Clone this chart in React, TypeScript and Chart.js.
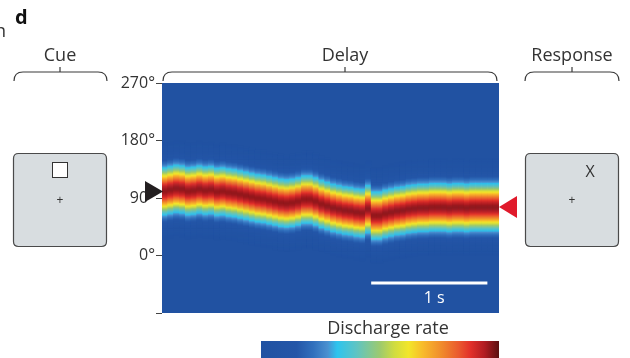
import React, { useEffect, useRef } from 'react';
import { Chart, registerables } from 'chart.js';

Chart.register(...registerables);

// ---- data ----
const delayTimes = [
  0, 0.05, 0.1, 0.15, 0.2, 0.25, 0.3, 0.35, 0.4, 0.45,
  0.5, 0.55, 0.6, 0.65, 0.7, 0.75, 0.8, 0.85, 0.9, 0.95,
  1.0, 1.05, 1.1, 1.15, 1.2, 1.25, 1.3, 1.35, 1.4, 1.45,
  1.5, 1.55, 1.6, 1.65, 1.7, 1.75, 1.8, 1.85, 1.9, 1.95,
  2.0, 2.05, 2.1, 2.15, 2.2, 2.25, 2.3, 2.35, 2.4, 2.45,
  2.5, 2.55, 2.6, 2.65, 2.7, 2.75, 2.8, 2.85,
];
const binWidth = 0.05;
// preferred direction (deg) of the activity bump centre in each time bin
const bumpCentre = [
  101, 103, 105, 104, 101, 102, 104, 102, 103, 100,
  101, 99, 98, 96, 94, 92, 90, 89, 87, 85,
  83, 82, 83, 85, 88, 88, 85, 81, 78, 75,
  73, 71, 70, 68, 67, 73, 63, 63, 66, 68,
  70, 71, 73, 74, 75, 75, 76, 76, 76, 75,
  76, 76, 75, 76, 76, 76, 76, 76,
];
const bumpWidthDeg = 25; // tuning width (sd, deg)
const bumpPeak = 0.96;
const angleStep = 1.5;
const yTickValues = [-90, 0, 90, 180, 270];
const yTickLabels = ['', '0°', '90°', '180°', '270°'];
const cueAngle = 100;
const responseAngle = 76;
const scaleBarStart = 1.8;
const scaleBarEnd = 2.8;
const phaseLabels = ['Cue', 'Delay', 'Response'];
const colorbarTitle = 'Discharge rate';

// ---- colour map (jet-like, as in the colour bar) ----
const cmapStops: [number, string][] = [
  [0, '#2152a2'],
  [0.15, '#2456a8'],
  [0.22, '#3170bd'],
  [0.28, '#4a90d0'],
  [0.32, '#2dc4ee'],
  [0.4, '#5ec4c4'],
  [0.5, '#9dca6e'],
  [0.56, '#d0dc40'],
  [0.62, '#f2e62a'],
  [0.68, '#f8bb2a'],
  [0.76, '#f08a2c'],
  [0.83, '#ea5a2e'],
  [0.88, '#e2302a'],
  [0.94, '#b01c22'],
  [1, '#5a1010'],
];
const hex = (h: string) => [1, 3, 5].map((i) => parseInt(h.slice(i, i + 2), 16));
const cmapRGB = cmapStops.map(([p, c]) => [p, hex(c)] as [number, number[]]);
function cmap(v: number): string {
  const t = Math.max(0, Math.min(1, v));
  for (let i = 1; i < cmapRGB.length; i++) {
    const [p1, c1] = cmapRGB[i];
    const [p0, c0] = cmapRGB[i - 1];
    if (t <= p1) {
      const f = (t - p0) / (p1 - p0 || 1);
      const c = c0.map((a, k) => Math.round(a + (c1[k] - a) * f));
      return `rgb(${c[0]},${c[1]},${c[2]})`;
    }
  }
  return cmapStops[cmapStops.length - 1][1];
}

const FONT = '"Open Sans", "Noto Sans", sans-serif';
const TEXT = '#333333';

const heatPlugin = {
  id: 'heat',
  beforeDatasetsDraw(chart: any) {
    const { ctx, chartArea: a, scales } = chart;
    const xs = scales.x;
    const ys = scales.y;
    ctx.save();
    ctx.beginPath();
    ctx.rect(a.left, a.top, a.right - a.left, a.bottom - a.top);
    ctx.clip();
    ctx.fillStyle = cmap(0);
    ctx.fillRect(a.left, a.top, a.right - a.left, a.bottom - a.top);
    const pts = chart.data.datasets[0].data as { x: number; y: number }[];
    pts.forEach((p) => {
      const x0 = xs.getPixelForValue(p.x);
      const x1 = xs.getPixelForValue(p.x + binWidth);
      for (let ang = -90; ang < 270; ang += angleStep) {
        const mid = ang + angleStep / 2;
        const d = mid - p.y;
        const v = bumpPeak * Math.exp(-(d * d) / (2 * bumpWidthDeg * bumpWidthDeg));
        if (v < 0.01) continue;
        const yTop = ys.getPixelForValue(ang + angleStep);
        const yBot = ys.getPixelForValue(ang);
        ctx.fillStyle = cmap(v);
        ctx.fillRect(x0 - 0.3, yTop - 0.3, x1 - x0 + 0.6, yBot - yTop + 0.6);
      }
    });
    ctx.restore();
  },
};

function brace(ctx: CanvasRenderingContext2D, x1: number, x2: number, y: number, cx: number) {
  ctx.beginPath();
  ctx.moveTo(x1, y + 9);
  ctx.quadraticCurveTo(x1, y, x1 + 9, y);
  ctx.lineTo(x2 - 9, y);
  ctx.quadraticCurveTo(x2, y, x2, y + 9);
  ctx.moveTo(cx, y);
  ctx.lineTo(cx, y - 5);
  ctx.stroke();
}

function roundRect(ctx: CanvasRenderingContext2D, x: number, y: number, w: number, h: number, r: number) {
  ctx.beginPath();
  ctx.moveTo(x + r, y);
  ctx.lineTo(x + w - r, y);
  ctx.quadraticCurveTo(x + w, y, x + w, y + r);
  ctx.lineTo(x + w, y + h - r);
  ctx.quadraticCurveTo(x + w, y + h, x + w - r, y + h);
  ctx.lineTo(x + r, y + h);
  ctx.quadraticCurveTo(x, y + h, x, y + h - r);
  ctx.lineTo(x, y + r);
  ctx.quadraticCurveTo(x, y, x + r, y);
  ctx.closePath();
}

const decorPlugin = {
  id: 'decor',
  afterDraw(chart: any) {
    const { ctx, chartArea: a, scales } = chart;
    const xs = scales.x;
    const ys = scales.y;
    ctx.save();

    // scale bar
    const sbY = a.bottom - 30;
    ctx.strokeStyle = '#ffffff';
    ctx.lineWidth = 3;
    ctx.beginPath();
    ctx.moveTo(xs.getPixelForValue(scaleBarStart), sbY);
    ctx.lineTo(xs.getPixelForValue(scaleBarEnd), sbY);
    ctx.stroke();
    ctx.fillStyle = '#ffffff';
    ctx.font = `16px ${FONT}`;
    ctx.textAlign = 'center';
    ctx.textBaseline = 'middle';
    ctx.fillText('1 s', (xs.getPixelForValue(scaleBarStart) + xs.getPixelForValue(scaleBarEnd)) / 2 + 5, sbY + 15);

    // cue arrow (black, pointing right)
    const yc = ys.getPixelForValue(cueAngle);
    ctx.fillStyle = '#231f20';
    ctx.beginPath();
    ctx.moveTo(a.left + 1, yc);
    ctx.lineTo(a.left - 17, yc - 10.5);
    ctx.lineTo(a.left - 17, yc + 10.5);
    ctx.closePath();
    ctx.fill();

    // response arrow (red, pointing left)
    const yr = ys.getPixelForValue(responseAngle);
    ctx.fillStyle = '#e01a2b';
    ctx.beginPath();
    ctx.moveTo(a.right, yr);
    ctx.lineTo(a.right + 18, yr - 11);
    ctx.lineTo(a.right + 18, yr + 11);
    ctx.closePath();
    ctx.fill();

    // braces + titles
    ctx.strokeStyle = '#3a3a3a';
    ctx.lineWidth = 1.2;
    brace(ctx, 14, 107, 72, 60);
    brace(ctx, a.left + 1, a.right - 2, 72, 345);
    brace(ctx, 525, 619, 72, 572);
    ctx.fillStyle = TEXT;
    ctx.font = `18px ${FONT}`;
    ctx.textAlign = 'center';
    ctx.textBaseline = 'alphabetic';
    ctx.fillText(phaseLabels[0], 60, 61);
    ctx.fillText(phaseLabels[1], 345, 61);
    ctx.fillText(phaseLabels[2], 572, 61);

    // cue & response screens
    ctx.lineWidth = 1.2;
    ctx.strokeStyle = '#4a4a4a';
    ctx.fillStyle = '#d8dde0';
    roundRect(ctx, 13.5, 153.5, 93, 93, 5);
    ctx.fill();
    ctx.stroke();
    roundRect(ctx, 525.5, 153.5, 93, 93, 5);
    ctx.fill();
    ctx.stroke();
    ctx.fillStyle = '#ffffff';
    ctx.fillRect(52.5, 162.5, 15, 15);
    ctx.strokeStyle = '#333333';
    ctx.lineWidth = 1;
    ctx.strokeRect(52.5, 162.5, 15, 15);
    ctx.fillStyle = TEXT;
    ctx.font = `12px ${FONT}`;
    ctx.textAlign = 'center';
    ctx.textBaseline = 'middle';
    ctx.fillText('+', 60, 201);
    ctx.fillText('+', 572, 201);
    ctx.font = `16px ${FONT}`;
    ctx.fillText('X', 590, 172);

    // colour bar
    const cbL = 261;
    const cbR = 499;
    const grad = ctx.createLinearGradient(cbL, 0, cbR, 0);
    cmapStops.forEach(([p, c]) => grad.addColorStop(p, c));
    ctx.fillStyle = grad;
    ctx.fillRect(cbL, 341, cbR - cbL, 20);
    ctx.fillStyle = TEXT;
    ctx.font = `18px ${FONT}`;
    ctx.textAlign = 'center';
    ctx.textBaseline = 'middle';
    ctx.fillText(colorbarTitle, 388, 329);

    // panel letter + fragment of neighbouring text
    ctx.textAlign = 'left';
    ctx.textBaseline = 'alphabetic';
    ctx.font = `bold 20px ${FONT}`;
    ctx.fillStyle = '#111111';
    ctx.fillText('d', 15, 24);
    ctx.font = `18px ${FONT}`;
    ctx.fillStyle = TEXT;
    ctx.fillText('n', -5, 37);
    ctx.restore();
  },
};

export default function App() {
  const ref = useRef<HTMLCanvasElement | null>(null);
  useEffect(() => {
    if (!ref.current) return;
    const chart = new Chart(ref.current, {
      type: 'scatter',
      data: {
        datasets: [
          {
            data: delayTimes.map((t, i) => ({ x: t, y: bumpCentre[i] })),
            pointRadius: 0,
            showLine: false,
          },
        ],
      },
      options: {
        animation: false,
        responsive: false,
        maintainAspectRatio: false,
        events: [],
        layout: { padding: { left: 112, top: 83, right: 131, bottom: 45 } },
        plugins: { legend: { display: false }, tooltip: { enabled: false } },
        scales: {
          x: { type: 'linear', min: 0, max: 2.9, display: false },
          y: {
            type: 'linear',
            min: -90,
            max: 270,
            afterFit: (s: any) => {
              s.width = 50;
            },
            afterBuildTicks: (s: any) => {
              s.ticks = yTickValues.map((v) => ({ value: v }));
            },
            border: { display: false },
            grid: {
              drawOnChartArea: false,
              drawTicks: true,
              tickLength: 6,
              color: '#444444',
              lineWidth: 1,
            },
            ticks: {
              padding: 1,
              color: TEXT,
              font: { family: FONT, size: 16 },
              callback: (v: any) => {
                const i = yTickValues.indexOf(Number(v));
                return i >= 0 ? yTickLabels[i] : '';
              },
            },
          },
        },
      },
      plugins: [heatPlugin, decorPlugin],
    } as any);
    return () => chart.destroy();
  }, []);
  return (
    <div style={{ position: 'fixed', left: 0, top: 0, width: 630, height: 358, background: '#fff' }}>
      <canvas ref={ref} width={630} height={358} style={{ display: 'block', width: 630, height: 358 }} />
    </div>
  );
}
